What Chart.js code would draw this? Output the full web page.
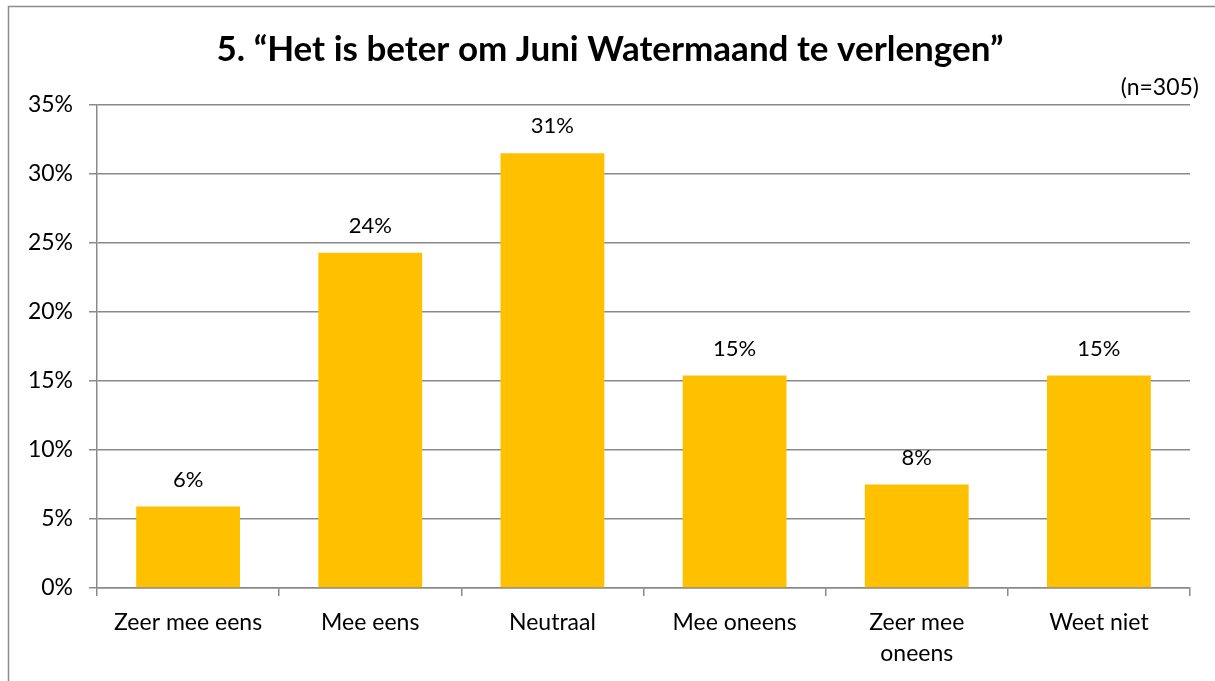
<!DOCTYPE html>
<html>
<head>
<meta charset="utf-8">
<script src="https://cdn.jsdelivr.net/npm/chart.js@4"></script>
<style>
  html, body { margin: 0; padding: 0; background: #ffffff; }
  #wrap { width: 1215px; height: 681px; }
</style>
</head>
<body>
<div id="wrap"><canvas id="myChart" width="1215" height="681"></canvas></div>
<script>
// Données du graphique
const categories = ['Zeer mee eens', 'Mee eens', 'Neutraal', 'Mee oneens', ['Zeer mee', 'oneens'], 'Weet niet'];
const pourcentages = [5.9, 24.3, 31.5, 15.4, 7.5, 15.4];
const etiquettes = ['6%', '24%', '31%', '15%', '8%', '15%'];
const titre = '5. \u201cHet is beter om Juni Watermaand te verlengen\u201d';
const sousTitre = '(n=305)';

const police = 'Lato';
const gris = '#8a8a8a';

// Cadre, titre et étiquettes de valeurs
const decorPlugin = {
    id: 'decor',
    afterDraw(chart) {
        const ctx = chart.ctx;
        ctx.save();
        ctx.strokeStyle = '#8c8c8c';
        ctx.lineWidth = 1.5;
        ctx.beginPath();
        ctx.moveTo(8.5, 700);
        ctx.lineTo(8.5, 6.5);
        ctx.lineTo(1220, 6.5);
        ctx.stroke();

        ctx.fillStyle = '#000000';
        ctx.textAlign = 'center';
        ctx.textBaseline = 'middle';
        ctx.font = 'bold 35px ' + police;
        ctx.fillText(titre, 610, 50);

        ctx.textAlign = 'right';
        ctx.font = '23px ' + police;
        ctx.fillText(sousTitre, 1199, 88);

        const meta = chart.getDatasetMeta(0);
        ctx.textAlign = 'center';
        ctx.font = '22px ' + police;
        meta.data.forEach((bar, i) => {
            ctx.fillText(etiquettes[i], bar.x, bar.y - 27);
        });
        ctx.restore();
    }
};

const ctx = document.getElementById('myChart').getContext('2d');
const myChart = new Chart(ctx, {
    type: 'bar',
    data: {
        labels: categories,
        datasets: [{
            data: pourcentages,
            backgroundColor: '#FFC000',
            borderWidth: 0,
            barPercentage: 0.57,
            categoryPercentage: 1
        }]
    },
    options: {
        responsive: false,
        animation: false,
        layout: { padding: { left: 0, right: 25, top: 105, bottom: 0 } },
        plugins: {
            legend: { display: false },
            tooltip: { enabled: false }
        },
        scales: {
            x: {
                grid: {
                    drawOnChartArea: false,
                    drawTicks: true,
                    tickLength: 8,
                    color: gris,
                    lineWidth: 1.5
                },
                border: { display: true, color: gris, width: 1.5 },
                ticks: {
                    color: '#000000',
                    font: { family: police, size: 23, lineHeight: 1.35 },
                    padding: 11,
                    maxRotation: 0,
                    autoSkip: false
                },
                afterFit(scale) { scale.height = 93; }
            },
            y: {
                min: 0,
                max: 35,
                ticks: {
                    stepSize: 5,
                    color: '#000000',
                    font: { family: police, size: 23 },
                    padding: 16,
                    callback: v => v + '%'
                },
                grid: {
                    color: gris,
                    lineWidth: 1.5,
                    tickLength: 8
                },
                border: { display: true, color: gris, width: 1.5 },
                afterFit(scale) { scale.width = 97; }
            }
        }
    },
    plugins: [decorPlugin]
});
</script>
</body>
</html>
